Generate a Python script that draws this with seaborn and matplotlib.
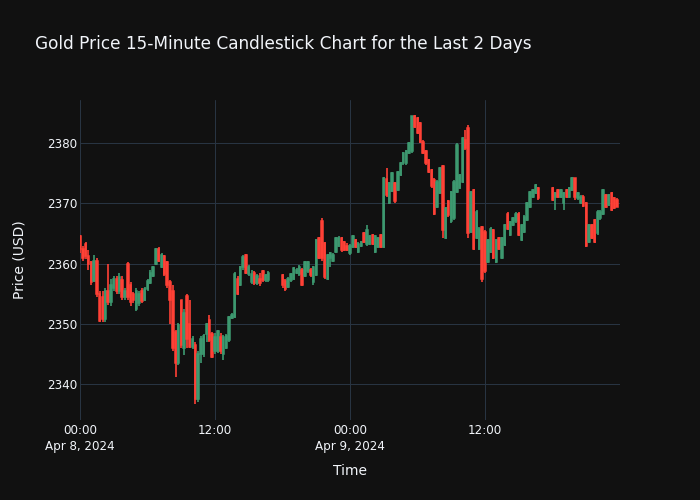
import numpy as np
import pandas as pd
import matplotlib
matplotlib.use("Agg")
import matplotlib.pyplot as plt
import matplotlib.dates as mdates
import seaborn as sns

# ---------------- data (15-minute OHLC) ----------------
opens = [
    2364.5, 2362.5, 2363.3, 2361.2, 2360.2, 2357.2, 2360.5, 2355.0, 2354.5, 2350.8,
    2355.5, 2353.6, 2356.0, 2357.5, 2355.5, 2357.3, 2354.5, 2360.0, 2356.5, 2355.0,
    2352.5, 2353.5, 2355.5, 2354.0, 2355.8, 2356.8, 2358.0, 2360.0, 2362.5, 2359.5,
    2361.2, 2360.3, 2357.0, 2355.5, 2348.7, 2343.5, 2353.9, 2346.0, 2354.7, 2350.0,
    2346.2, 2346.5, 2337.5, 2345.0, 2345.0, 2348.3, 2350.6, 2348.4, 2345.5, 2345.5,
    2347.8, 2345.0, 2346.0, 2347.3, 2351.0, 2351.2, 2357.5, 2356.5, 2359.4, 2361.4,
    2358.3, 2357.0, 2358.5, 2356.8, 2357.5, 2358.7, 2357.3, 2357.3,
    2358.1, 2357.2, 2356.2, 2357.3, 2357.5, 2358.5, 2358.3, 2359.0, 2358.0, 2358.7,
    2359.0, 2357.0, 2358.1, 2364.2, 2367.0, 2363.4, 2357.5, 2361.0, 2360.5, 2362.0,
    2363.0, 2364.2, 2363.5, 2363.0, 2361.7, 2362.8, 2363.9, 2362.0, 2363.0, 2365.0,
    2363.3, 2363.3, 2364.7, 2362.0, 2362.8, 2364.7, 2362.8, 2374.0, 2370.0, 2372.0,
    2373.3, 2372.2, 2374.7, 2376.6, 2376.6, 2378.3, 2378.6, 2384.4, 2384.1, 2383.3,
    2380.2, 2378.6, 2377.2, 2375.5, 2373.9, 2369.4, 2371.7, 2376.1, 2364.2, 2370.3,
    2367.0, 2367.5, 2371.9, 2372.5, 2373.6, 2380.5, 2382.5, 2365.3, 2372.2, 2364.2,
    2362.5, 2366.1, 2365.3, 2360.3, 2362.0, 2365.6, 2360.3, 2364.2, 2361.0, 2363.1,
    2368.3, 2364.7, 2366.4, 2367.0, 2368.3, 2363.9, 2365.3, 2367.2, 2369.4, 2371.1,
    2371.7, 2372.5,
    2372.5, 2371.0, 2372.2, 2371.1, 2370.0, 2372.2, 2371.1, 2372.2, 2374.1, 2370.8,
    2370.0, 2371.1, 2370.0, 2363.6, 2366.4, 2367.2, 2365.0, 2367.5, 2368.3, 2371.4,
    2369.7, 2371.7, 2370.8, 2370.55,
]
highs = [
    2364.8, 2363.0, 2363.6, 2362.2, 2360.5, 2361.5, 2361.0, 2355.5, 2355.5, 2356.0,
    2360.0, 2357.5, 2358.0, 2358.0, 2358.5, 2358.0, 2356.0, 2360.2, 2357.0, 2355.3,
    2356.0, 2355.5, 2356.0, 2356.2, 2357.5, 2358.9, 2359.6, 2362.6, 2362.7, 2361.8,
    2361.5, 2360.5, 2357.3, 2356.5, 2349.0, 2350.2, 2354.0, 2352.5, 2355.0, 2353.9,
    2348.0, 2347.0, 2345.5, 2348.0, 2348.3, 2350.2, 2351.5, 2348.6, 2348.5, 2349.0,
    2348.5, 2348.2, 2348.3, 2351.4, 2351.8, 2358.6, 2358.0, 2359.6, 2361.5, 2361.6,
    2359.8, 2358.9, 2358.7, 2358.2, 2358.5, 2358.9, 2358.3, 2358.8,
    2358.3, 2357.5, 2357.8, 2358.5, 2359.4, 2359.3, 2359.8, 2359.2, 2360.5, 2360.5,
    2359.3, 2359.6, 2364.0, 2364.4, 2367.5, 2363.6, 2361.6, 2362.0, 2361.7, 2364.4,
    2364.5, 2364.4, 2363.7, 2363.4, 2363.2, 2364.7, 2364.1, 2363.5, 2363.7, 2365.2,
    2366.4, 2364.7, 2364.9, 2364.7, 2364.4, 2364.9, 2374.3, 2375.8, 2373.5, 2375.2,
    2373.5, 2375.4, 2376.8, 2378.5, 2378.8, 2380.1, 2384.5, 2384.6, 2384.3, 2383.5,
    2380.4, 2378.8, 2377.4, 2375.7, 2374.1, 2373.8, 2376.0, 2376.3, 2369.4, 2370.5,
    2372.1, 2373.8, 2379.9, 2374.9, 2381.0, 2382.2, 2383.0, 2372.1, 2372.4, 2368.8,
    2366.0, 2366.3, 2365.5, 2364.1, 2366.0, 2365.8, 2364.1, 2364.4, 2364.4, 2366.6,
    2368.5, 2367.1, 2367.7, 2368.5, 2368.5, 2366.6, 2368.0, 2370.2, 2372.1, 2372.4,
    2373.2, 2372.7,
    2372.7, 2371.9, 2372.4, 2372.4, 2371.9, 2372.4, 2372.7, 2374.3, 2374.2, 2371.9,
    2371.3, 2371.3, 2370.2, 2366.6, 2366.6, 2367.4, 2368.8, 2368.8, 2372.4, 2371.6,
    2371.6, 2371.9, 2371.0, 2370.8,
]
lows = [
    2361.8, 2360.5, 2360.8, 2359.0, 2356.5, 2357.0, 2354.5, 2350.3, 2350.3, 2350.3,
    2353.2, 2353.0, 2355.5, 2355.0, 2355.0, 2354.0, 2354.0, 2354.0, 2353.0, 2353.5,
    2352.2, 2353.0, 2353.5, 2353.8, 2355.5, 2356.7, 2357.8, 2359.8, 2360.3, 2359.3,
    2358.0, 2356.0, 2350.0, 2345.5, 2341.2, 2343.2, 2346.0, 2344.8, 2346.0, 2346.0,
    2345.8, 2336.8, 2337.0, 2343.5, 2344.5, 2347.0, 2347.0, 2344.3, 2345.0, 2345.2,
    2345.0, 2344.0, 2345.8, 2347.0, 2350.8, 2351.0, 2354.8, 2356.3, 2359.0, 2358.3,
    2358.0, 2356.7, 2356.5, 2356.5, 2356.3, 2357.0, 2357.0, 2357.0,
    2356.0, 2355.5, 2356.0, 2357.0, 2357.3, 2358.2, 2358.0, 2356.3, 2357.8, 2358.5,
    2357.8, 2356.5, 2357.9, 2360.7, 2360.5, 2357.5, 2357.3, 2359.5, 2360.3, 2361.8,
    2362.8, 2362.0, 2362.1, 2362.1, 2361.5, 2362.6, 2362.6, 2361.7, 2362.8, 2363.4,
    2363.0, 2363.1, 2363.1, 2361.7, 2362.6, 2362.6, 2362.6, 2371.0, 2369.8, 2371.8,
    2370.0, 2372.0, 2374.5, 2376.4, 2376.4, 2378.1, 2378.4, 2382.5, 2381.4, 2380.0,
    2378.1, 2376.4, 2375.0, 2372.6, 2368.0, 2369.2, 2371.5, 2364.2, 2364.0, 2367.8,
    2366.8, 2367.3, 2371.7, 2372.3, 2373.4, 2378.9, 2364.2, 2365.1, 2362.3, 2364.0,
    2362.3, 2357.0, 2358.5, 2360.1, 2361.8, 2360.7, 2360.1, 2362.3, 2360.8, 2362.9,
    2365.6, 2364.5, 2366.2, 2366.8, 2364.5, 2363.7, 2365.1, 2367.0, 2369.2, 2370.9,
    2371.5, 2370.6,
    2370.4, 2368.9, 2370.9, 2370.9, 2368.9, 2370.9, 2370.9, 2372.0, 2370.6, 2370.6,
    2369.8, 2369.3, 2362.8, 2363.4, 2364.0, 2363.4, 2364.8, 2367.3, 2368.1, 2369.2,
    2369.5, 2368.7, 2369.0, 2369.3,
]
closes = [
    2362.5, 2361.0, 2361.2, 2360.0, 2357.0, 2360.5, 2355.0, 2350.5, 2350.8, 2355.5,
    2353.6, 2356.5, 2357.5, 2355.5, 2357.8, 2354.5, 2355.5, 2354.5, 2353.6, 2354.0,
    2355.5, 2355.0, 2353.8, 2355.8, 2357.2, 2358.5, 2359.4, 2362.5, 2360.5, 2361.5,
    2358.2, 2356.5, 2354.0, 2346.0, 2343.5, 2349.8, 2346.5, 2351.8, 2347.5, 2346.2,
    2347.5, 2337.5, 2345.0, 2347.5, 2348.0, 2350.0, 2347.3, 2344.5, 2347.8, 2348.8,
    2345.5, 2347.8, 2348.0, 2351.2, 2351.5, 2358.3, 2355.0, 2359.4, 2361.1, 2358.5,
    2359.5, 2358.3, 2356.8, 2358.0, 2356.8, 2357.3, 2358.1, 2358.5,
    2356.5, 2355.8, 2357.5, 2358.3, 2359.2, 2359.0, 2359.5, 2356.5, 2360.3, 2360.3,
    2358.1, 2359.5, 2363.9, 2360.9, 2361.0, 2357.8, 2361.4, 2361.8, 2361.5, 2364.2,
    2364.3, 2362.2, 2362.3, 2362.3, 2363.0, 2364.5, 2362.8, 2363.3, 2363.5, 2363.6,
    2365.5, 2364.5, 2363.3, 2364.5, 2364.2, 2362.8, 2374.1, 2371.4, 2373.3, 2375.0,
    2370.3, 2375.2, 2376.6, 2378.3, 2378.6, 2379.9, 2384.4, 2382.7, 2381.6, 2380.2,
    2378.3, 2376.6, 2375.2, 2372.8, 2368.3, 2373.6, 2375.8, 2365.5, 2369.2, 2368.0,
    2371.9, 2373.6, 2379.7, 2374.7, 2380.8, 2379.1, 2365.0, 2371.9, 2362.5, 2368.6,
    2365.8, 2357.5, 2358.7, 2363.9, 2365.8, 2360.9, 2363.9, 2362.5, 2364.2, 2366.4,
    2365.8, 2366.9, 2367.5, 2368.3, 2364.7, 2366.4, 2367.8, 2370.0, 2371.9, 2372.2,
    2373.0, 2370.8,
    2370.6, 2371.7, 2371.1, 2372.2, 2371.7, 2371.1, 2372.5, 2374.1, 2371.0, 2371.7,
    2371.1, 2369.5, 2363.0, 2366.4, 2364.2, 2363.6, 2368.6, 2368.6, 2372.2, 2369.45,
    2371.4, 2368.9, 2369.2, 2369.45,
]

# 15-minute timestamps, without the daily 17:00 market break
all_times = pd.date_range("2024-04-08 00:00", "2024-04-09 23:45", freq="15min")
times = all_times[all_times.hour != 17]

df = pd.DataFrame({"time": times, "open": opens, "high": highs,
                   "low": lows, "close": closes})

# ---------------- style ----------------
BG = "#111111"
GRID = "#283442"
TXT = "#f2f5fa"
UP = "#3D9970"
DOWN = "#FF4136"

sns.set_theme(style="darkgrid", rc={
    "axes.facecolor": BG, "figure.facecolor": BG, "grid.color": GRID,
    "grid.linewidth": 0.75, "axes.edgecolor": BG, "text.color": TXT,
    "xtick.color": TXT, "ytick.color": TXT, "axes.labelcolor": TXT,
})
plt.rcParams["font.family"] = ["DejaVu Sans"]

fig = plt.figure(figsize=(7, 5), dpi=100)
ax = fig.add_axes([80 / 700, 80 / 500, 540 / 700, 320 / 500])

x = mdates.date2num(df["time"])
dt = 15 / (24 * 60)
up = df["close"] >= df["open"]
colors = np.where(up, UP, DOWN)

# wicks
ax.vlines(x, df["low"], df["high"], colors=colors, linewidth=1.2, zorder=3)
# bodies
body_bottom = np.minimum(df["open"], df["close"])
body_h = np.abs(df["close"] - df["open"])
ax.bar(x, body_h, width=dt * 0.5, bottom=body_bottom, color=colors,
       edgecolor=colors, linewidth=1.1, zorder=4)

ax.set_xlim(mdates.date2num(pd.Timestamp("2024-04-08 00:00")),
            mdates.date2num(pd.Timestamp("2024-04-10 00:00")))
ax.set_ylim(2334.1, 2387.1)

tick_times = pd.to_datetime(["2024-04-08 00:00", "2024-04-08 12:00",
                             "2024-04-09 00:00", "2024-04-09 12:00"])
tick_labels = ["00:00\nApr 8, 2024", "12:00", "00:00\nApr 9, 2024", "12:00"]
ax.set_xticks(mdates.date2num(tick_times))
ax.set_xticklabels(tick_labels, fontsize=8.6, color=TXT, linespacing=1.3)
ax.set_yticks([2340, 2350, 2360, 2370, 2380])
ax.set_yticklabels(["2340", "2350", "2360", "2370", "2380"], fontsize=8.6, color=TXT)
ax.tick_params(axis="both", length=0)
ax.tick_params(axis="x", pad=3)
ax.tick_params(axis="y", pad=2)
ax.grid(True, color=GRID, linewidth=0.75)
ax.set_axisbelow(True)
for s in ax.spines.values():
    s.set_visible(False)

ax.set_xlabel("Time", fontsize=10, color=TXT, labelpad=8)
ax.set_ylabel("Price (USD)", fontsize=10, color=TXT, labelpad=15)

fig.text(35 / 700, 1 - 44 / 500,
         "Gold Price 15-Minute Candlestick Chart for the Last 2 Days",
         fontsize=12.2, color=TXT, ha="left", va="center")

fig.savefig("out.png", dpi=100, facecolor=BG)
